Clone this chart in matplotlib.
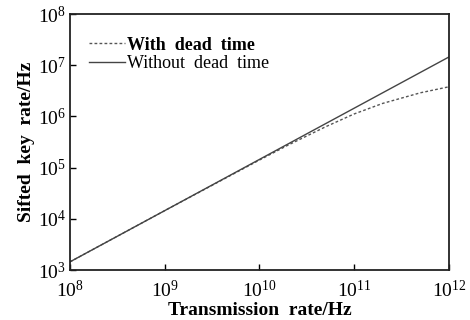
import matplotlib
matplotlib.use("Agg")
import matplotlib.pyplot as plt
from matplotlib.ticker import LogLocator, NullLocator

plt.rcParams['font.family'] = ['Liberation Serif', 'DejaVu Serif']
plt.rcParams['mathtext.fontset'] = 'custom'
plt.rcParams['mathtext.rm'] = 'Liberation Serif'
plt.rcParams['mathtext.it'] = 'Liberation Serif:italic'
plt.rcParams['mathtext.bf'] = 'Liberation Serif:bold'

# transmission rate (Hz)
rate_no_dead = [1e8, 1e12]
key_no_dead = [1.45e3, 1.45e7]

rate_dead = [1e8, 1e9, 1e10, 2e10, 5e10, 1e11, 2e11, 5e11, 1e12]
key_dead = [1.45e3, 1.45e4, 1.41e5, 2.75e5, 6.3e5, 1.12e6, 1.8e6, 2.9e6, 3.8e6]

fig = plt.figure(figsize=(4.7, 3.2), dpi=100)
ax = fig.add_axes([0.149, 0.156, 0.806, 0.80])

l1, = ax.plot(rate_dead, key_dead, color='#555555', lw=1.0, ls=(0, (2, 1.6)),
              label='With  dead  time')
l2, = ax.plot(rate_no_dead, key_no_dead, color='#444444', lw=1.0,
              label='Without  dead  time')

ax.set_xscale('log')
ax.set_yscale('log')
ax.set_xlim(1e8, 1e12)
ax.set_ylim(1e3, 1e8)
ax.xaxis.set_major_locator(LogLocator(base=10, numticks=10))
ax.yaxis.set_major_locator(LogLocator(base=10, numticks=10))
ax.xaxis.set_minor_locator(NullLocator())
ax.yaxis.set_minor_locator(NullLocator())

ax.tick_params(which='major', direction='in', length=4, width=1.0,
               labelsize=14, top=False, right=False)
ax.tick_params(axis='x', pad=7)
ax.tick_params(axis='y', pad=3)
for s in ax.spines.values():
    s.set_linewidth(1.3)
    s.set_color('#222222')

ax.set_xlabel('Transmission  rate/Hz', fontsize=14, fontweight='bold', labelpad=1)
ax.set_ylabel('Sifted  key  rate/Hz', fontsize=14, fontweight='bold', labelpad=2)

leg = ax.legend(loc='upper left', bbox_to_anchor=(0.03, 0.94), frameon=False,
                fontsize=13, handlelength=2.0, handletextpad=0.1,
                labelspacing=0.1, borderaxespad=0)
leg.get_texts()[0].set_fontweight('bold')

fig.savefig('out.png', dpi=100)
